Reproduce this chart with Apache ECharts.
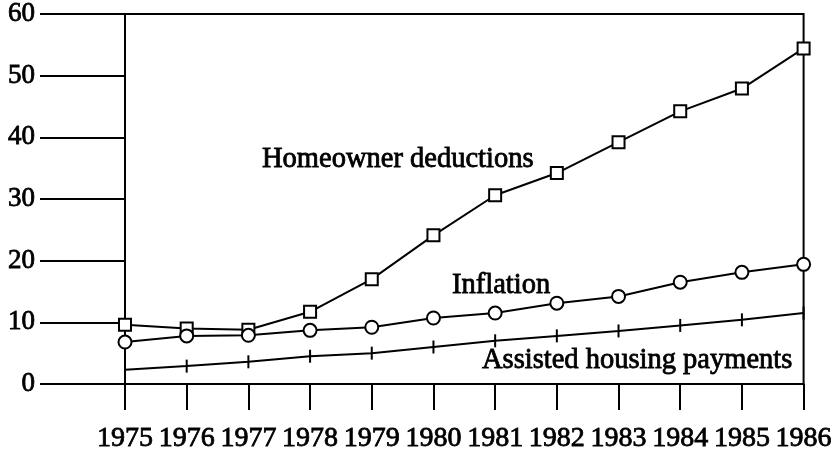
<!DOCTYPE html>
<html><head><meta charset="utf-8">
<script src="https://cdn.jsdelivr.net/npm/echarts@6/dist/echarts.min.js"></script>
<style>html,body{margin:0;padding:0;background:#fff}#c{width:835px;height:457px}</style>
</head><body><div id="c"></div>
<script>
const years = ['1975','1976','1977','1978','1979','1980','1981','1982','1983','1984','1985','1986'];
const homeowner = [9.6, 9.0, 8.8, 11.7, 17.0, 24.1, 30.6, 34.2, 39.2, 44.2, 47.9, 54.4];
const inflation = [6.8, 7.8, 7.9, 8.7, 9.2, 10.7, 11.5, 13.1, 14.2, 16.5, 18.1, 19.4];
const assisted = [2.3, 2.9, 3.6, 4.5, 5.0, 6.0, 7.0, 7.8, 8.6, 9.5, 10.4, 11.5];
const yTicks = [0, 10, 20, 30, 40, 50, 60];
const font = 'Liberation Serif';
const ink = '#000';
const chart = echarts.init(document.getElementById('c'));
const lineStyle = {color: ink, width: 2};
const txt = (t, x, y) => ({type: 'text', x: x, y: y,
  style: {text: t, font: '28.5px "Liberation Serif"', fill: ink, stroke: ink, lineWidth: 0.8, verticalAlign: 'middle', align: 'left'}});
chart.setOption({
  animation: false,
  backgroundColor: '#fff',
  grid: {left: 125, right: 27, top: 13, bottom: 73, show: true, borderColor: ink, borderWidth: 2, backgroundColor: 'transparent'},
  xAxis: {
    type: 'category', data: years, boundaryGap: false,
    axisLine: {lineStyle: {color: ink, width: 2}},
    axisTick: {interval: 0, length: 26, lineStyle: {color: ink, width: 2}},
    axisLabel: {interval: 0, margin: 41, color: ink, fontFamily: font, fontSize: 28, textBorderColor: ink, textBorderWidth: 0.8}
  },
  yAxis: {
    type: 'value', min: yTicks[0], max: yTicks[yTicks.length - 1], interval: 10,
    splitLine: {show: false},
    axisLine: {show: true, lineStyle: {color: ink, width: 2}},
    axisTick: {show: true, length: 85, lineStyle: {color: ink, width: 2}},
    axisLabel: {margin: 90, color: ink, fontFamily: font, fontSize: 27, textBorderColor: ink, textBorderWidth: 0.8}
  },
  series: [
    {type: 'line', data: homeowner, symbol: 'rect', symbolSize: 12, lineStyle,
     itemStyle: {color: '#fff', borderColor: ink, borderWidth: 2}},
    {type: 'line', data: inflation, symbol: 'circle', symbolSize: 13, lineStyle,
     itemStyle: {color: '#fff', borderColor: ink, borderWidth: 2}},
    {type: 'line', data: assisted, symbol: 'rect', symbolSize: [2, 13], lineStyle,
     itemStyle: {color: ink}}
  ],
  graphic: [
    txt('Homeowner deductions', 262, 160),
    txt('Inflation', 452, 286),
    txt('Assisted housing payments', 482, 361)
  ]
});
</script></body></html>
